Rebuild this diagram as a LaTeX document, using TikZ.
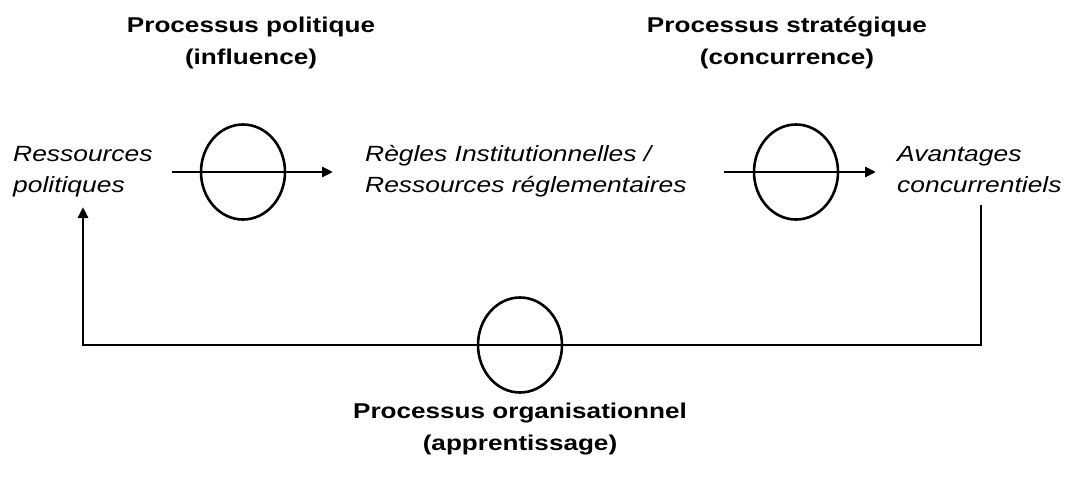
\documentclass[tikz,border=0pt]{standalone}
\usepackage{fontspec}
\usetikzlibrary{arrows.meta,shapes.geometric}
\newfontfamily\bodyfont[FakeStretch=1.2]{Liberation Sans}
\newfontfamily\titlefont[FakeStretch=1.22]{Liberation Sans}
\begin{document}
\begin{tikzpicture}[x=1pt,y=-1pt,
  body/.style={font=\bodyfont\itshape\fontsize{22}{30.5}\selectfont, align=left, inner sep=0pt, anchor=base west},
  ttl/.style={font=\titlefont\bfseries\fontsize{21.4}{32}\selectfont, align=center, inner sep=0pt, anchor=base},
  proc/.style={draw, line width=2.6pt, ellipse, minimum width=84pt, minimum height=95pt, inner sep=0pt},
  conn/.style={line width=2.8pt},
  arr/.style={conn, -{Triangle[length=11pt,width=10pt]}}]
\useasboundingbox[fill=white] (0,0) rectangle (1071,483);
\node[ttl] (t1) at (251,64) {Processus politique\\(influence)};
\node[ttl] (t2) at (787,64) {Processus stratégique\\(concurrence)};
\node[ttl] (t3) at (520,450) {Processus organisationnel\\(apprentissage)};
\node[body] (res) at (13,192) {Ressources\\politiques};
\node[body] (reg) at (365,192) {Règles Institutionnelles /\\Ressources réglementaires};
\node[body] (ava) at (897,192) {Avantages\\concurrentiels};
\node[proc] (p1) at (243,172) {};
\node[proc] (p2) at (796,172) {};
\node[proc] (p3) at (520,345) {};
\coordinate (a1s) at (172,172);
\coordinate (a1e) at (333,172);
\coordinate (a2s) at (724,172);
\coordinate (a2e) at (876,172);
\coordinate (fbR) at (981,205);
\coordinate (fbL) at (83,207);
\draw[arr] (a1s) -- (a1e);
\draw[arr] (a2s) -- (a2e);
\draw[arr] (fbR) |- (p3.center) -| (fbL);
\end{tikzpicture}
\end{document}
